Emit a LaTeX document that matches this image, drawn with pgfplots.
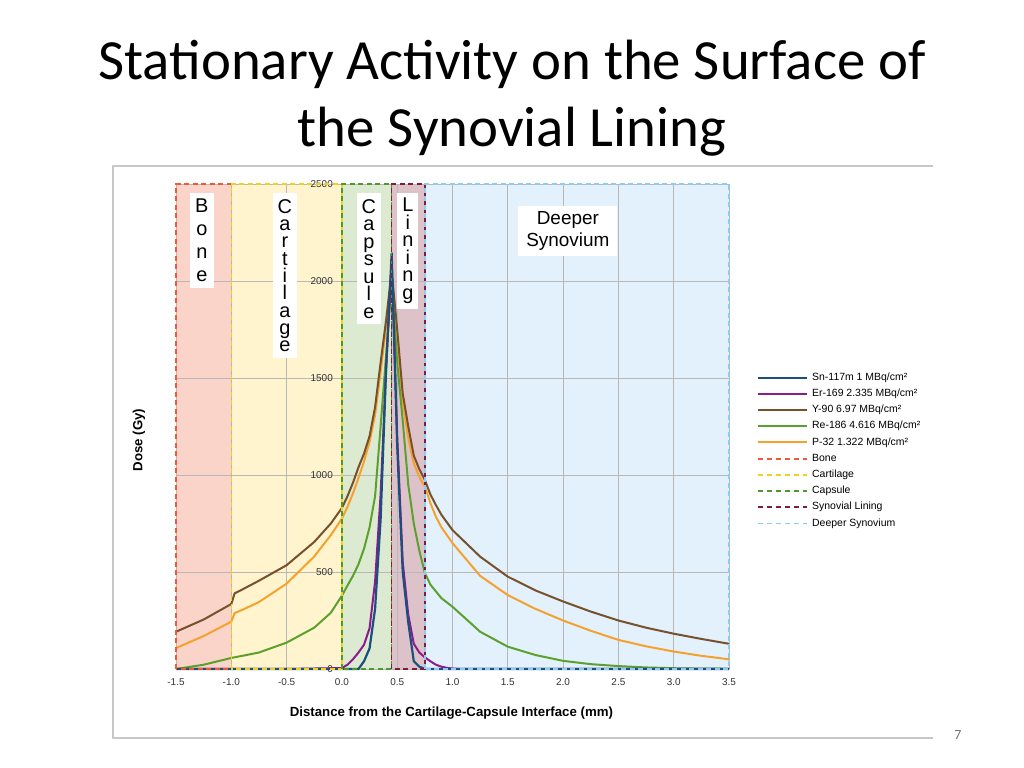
\documentclass[border=0pt]{standalone}
\usepackage{fontspec}
\setmainfont{Liberation Sans}
\newfontfamily\carlito{Carlito}
\usepackage{pgfplots}
\pgfplotsset{compat=1.18}
\definecolor{snc}{HTML}{1B4F7E}
\definecolor{erc}{HTML}{8E1B8A}
\definecolor{yc}{HTML}{77502C}
\definecolor{rec}{HTML}{5AA12E}
\definecolor{pc}{HTML}{F6A12E}
\definecolor{bonec}{HTML}{EE5A36}
\definecolor{cartc}{HTML}{F2D01E}
\definecolor{capsc}{HTML}{4C9A2A}
\definecolor{linc}{HTML}{7E1E3C}
\definecolor{deepc}{HTML}{8FCBF0}
\definecolor{bonef}{HTML}{FAD4C9}
\definecolor{cartf}{HTML}{FFF4CE}
\definecolor{capsf}{HTML}{DCEAD2}
\definecolor{linf}{HTML}{DEC2CA}
\definecolor{deepf}{HTML}{E2F1FC}
\begin{document}
\begin{tikzpicture}
\path (0bp,0bp) rectangle (1024bp,768bp);
\node[font=\carlito\fontsize{57}{60}\selectfont, anchor=base] at (512bp,688bp) {Stationary Activity on the Surface of};
\node[font=\carlito\fontsize{57}{60}\selectfont, anchor=base] at (512bp,621bp) {the Synovial Lining};
\draw[black!22, line width=1.2bp] (933bp,602bp) -- (113bp,602bp) -- (113bp,30bp) -- (933bp,30bp);
\node[font=\carlito\fontsize{14}{14}\selectfont, text=black!55, anchor=base] at (958bp,29bp) {7};
\begin{axis}[
  at={(176bp,99bp)}, anchor=south west,
  width=553bp, height=485bp, scale only axis,
  set layers, clip=false,
  xmin=-1.5, xmax=3.5, ymin=0, ymax=2500,
  xtick={-1.5,-1,...,3.5}, ytick={0,500,...,2500},
  grid=major, grid style={line width=0.7bp, color=black!28},
  major tick length=0pt,
  axis line style={draw=none},
  scaled ticks=false,
  tick label style={font=\fontsize{10}{12}\selectfont, text=black!80},
  xticklabel style={inner sep=0pt, yshift=-9bp, /pgf/number format/.cd, fixed, fixed zerofill, precision=1, assume math mode=true},
  yticklabel style={anchor=east, inner sep=0pt, xshift=157bp, /pgf/number format/.cd, fixed, precision=0, 1000 sep={}, assume math mode=true},
  xlabel={Distance from the Cartilage-Capsule Interface (mm)},
  xlabel style={font=\bfseries\fontsize{13.3}{15}\selectfont, at={(axis description cs:0.498,-0.0907)}, anchor=center},
  legend style={at={(axis description cs:1.0506,0.612)}, anchor=north west, draw=none, fill=none,
    font=\fontsize{10.5}{12}\selectfont, inner sep=0pt,
    nodes={inner sep=0pt, text height=8bp, text depth=2.5bp},
    row sep=5.7bp, /tikz/every odd column/.append style={column sep=4bp}},
  legend cell align=left,
  legend image code/.code={\draw[#1] (0bp,0bp) -- (49bp,0bp);},
]
% region fills
\addplot[draw=none, fill=bonef, on layer=axis background, forget plot] coordinates {(-1.5,0) (-1.5,2500) (-1,2500) (-1,0)} -- cycle;
\addplot[draw=none, fill=cartf, on layer=axis background, forget plot] coordinates {(-1,0) (-1,2500) (0,2500) (0,0)} -- cycle;
\addplot[draw=none, fill=capsf, on layer=axis background, forget plot] coordinates {(0,0) (0,2500) (0.45,2500) (0.45,0)} -- cycle;
\addplot[draw=none, fill=linf, on layer=axis background, forget plot] coordinates {(0.45,0) (0.45,2500) (0.75,2500) (0.75,0)} -- cycle;
\addplot[draw=none, fill=deepf, on layer=axis background, forget plot] coordinates {(0.75,0) (0.75,2500) (3.5,2500) (3.5,0)} -- cycle;
% curves
\addplot[pc, line width=2bp, forget plot] coordinates {
(-1.5,108) (-1.25,170) (-1.0,244) (-0.97,288) (-0.9,305) (-0.75,345) (-0.5,440) (-0.25,580) (-0.1,690) (0.0,775)
(0.05,835) (0.10,905) (0.15,985) (0.20,1070) (0.25,1170) (0.30,1310) (0.35,1530) (0.40,1770) (0.45,2020)
(0.50,1700) (0.55,1380) (0.60,1190) (0.65,1060) (0.70,990) (0.75,940) (0.80,855) (0.85,785) (0.90,730)
(1.0,649) (1.25,480) (1.5,381) (1.75,310) (2.0,250) (2.25,197) (2.5,150) (2.75,117) (3.0,90) (3.25,68) (3.5,50)};
\addplot[yc, line width=2bp, forget plot] coordinates {
(-1.5,192) (-1.25,255) (-1.0,335) (-0.97,390) (-0.9,410) (-0.75,455) (-0.5,535) (-0.25,655) (-0.1,750) (0.0,830)
(0.05,890) (0.10,960) (0.15,1040) (0.20,1110) (0.25,1200) (0.30,1350) (0.35,1580) (0.40,1800) (0.45,2050)
(0.50,1750) (0.55,1420) (0.60,1250) (0.65,1100) (0.70,1030) (0.75,975) (0.80,900) (0.85,845) (0.90,795)
(1.0,716) (1.25,579) (1.5,476) (1.75,405) (2.0,348) (2.25,296) (2.5,250) (2.75,213) (3.0,182) (3.25,155) (3.5,130)};
\addplot[rec, line width=2bp, forget plot] coordinates {
(-1.5,0) (-1.25,22) (-1.0,57) (-0.9,68) (-0.75,85) (-0.5,136) (-0.25,213) (-0.1,290) (0.0,378)
(0.05,430) (0.10,480) (0.15,540) (0.20,620) (0.25,730) (0.30,890) (0.35,1250) (0.40,1620) (0.45,2000)
(0.50,1580) (0.55,1280) (0.60,950) (0.65,750) (0.70,610) (0.75,495) (0.80,435) (0.85,400) (0.90,365)
(1.0,321) (1.25,192) (1.5,115) (1.75,72) (2.0,42) (2.25,25) (2.5,15) (2.75,8) (3.0,4) (3.25,2) (3.5,1)};
\addplot[erc, line width=2bp, forget plot] coordinates {
(-1.5,0) (-0.5,0) (0.0,5) (0.05,22) (0.10,50) (0.15,85) (0.20,125) (0.25,210) (0.30,450) (0.35,900) (0.40,1550) (0.45,2100)
(0.50,1200) (0.55,550) (0.60,280) (0.65,130) (0.70,85) (0.75,60) (0.80,40) (0.85,22) (0.90,12) (0.95,6) (1.0,2) (1.1,0) (3.5,0)};
\addplot[snc, line width=2.2bp, forget plot] coordinates {
(-1.5,0) (0.15,0) (0.20,40) (0.25,106) (0.30,310) (0.35,770) (0.40,1550) (0.45,2146)
(0.50,1150) (0.55,500) (0.60,240) (0.65,40) (0.70,12) (0.75,0) (3.5,0)};
% region borders
\addplot[bonec, line width=1.6bp, dash pattern=on 5bp off 3.5bp, forget plot] coordinates {(-1.5,0) (-1.5,2500) (-1,2500) (-1,0) (-1.5,0)};
\addplot[cartc, line width=1.6bp, dash pattern=on 5bp off 3.5bp, forget plot] coordinates {(-1,0) (-1,2500) (0,2500) (0,0) (-1,0)};
\addplot[capsc, line width=1.6bp, dash pattern=on 5bp off 3.5bp, forget plot] coordinates {(0,0) (0,2500) (0.45,2500) (0.45,0) (0,0)};
\addplot[linc, line width=1.6bp, dash pattern=on 5bp off 3.5bp, forget plot] coordinates {(0.45,0) (0.45,2500) (0.75,2500) (0.75,0) (0.45,0)};
\addplot[deepc, line width=1.6bp, dash pattern=on 5bp off 3.5bp, forget plot] coordinates {(0.75,0) (0.75,2500) (3.5,2500) (3.5,0) (0.75,0)};
% region labels
\node[fill=white, inner xsep=5bp, inner ysep=6bp, anchor=north, align=center, font=\fontsize{20}{23}\selectfont] at (axis cs:-1.266,2454) {B\\o\\n\\e};
\node[fill=white, inner xsep=5bp, inner ysep=6bp, anchor=north, align=center, font=\fontsize{20}{17.4}\selectfont] at (axis cs:-0.515,2454) {C\\a\\r\\t\\i\\l\\a\\g\\e};
\node[fill=white, inner xsep=5bp, inner ysep=6bp, anchor=north, align=center, font=\fontsize{20}{17.6}\selectfont] at (axis cs:0.244,2454) {C\\a\\p\\s\\u\\l\\e};
\node[fill=white, inner xsep=5bp, inner ysep=5bp, anchor=north, align=center, font=\fontsize{20}{17.6}\selectfont] at (axis cs:0.597,2454) {L\\i\\n\\i\\n\\g};
\node[fill=white, inner xsep=8bp, inner ysep=6bp, align=center, font=\fontsize{19}{22}\selectfont] at (axis cs:2.043,2258) {Deeper\\Synovium};
% y label
\node[rotate=90, font=\bfseries\fontsize{13.3}{15}\selectfont] at (axis description cs:-0.067,0.472) {Dose (Gy)};
% legend
\addlegendimage{snc, line width=2bp}\addlegendentry{Sn-117m 1 MBq/cm²}
\addlegendimage{erc, line width=2bp}\addlegendentry{Er-169 2.335 MBq/cm²}
\addlegendimage{yc, line width=2bp}\addlegendentry{Y-90 6.97 MBq/cm²}
\addlegendimage{rec, line width=2bp}\addlegendentry{Re-186 4.616 MBq/cm²}
\addlegendimage{pc, line width=2bp}\addlegendentry{P-32 1.322 MBq/cm²}
\addlegendimage{bonec, line width=1.8bp, dash pattern=on 5bp off 4bp}\addlegendentry{Bone}
\addlegendimage{cartc, line width=1.8bp, dash pattern=on 5bp off 4bp}\addlegendentry{Cartilage}
\addlegendimage{capsc, line width=1.8bp, dash pattern=on 5bp off 4bp}\addlegendentry{Capsule}
\addlegendimage{linc, line width=1.8bp, dash pattern=on 5bp off 4bp}\addlegendentry{Synovial Lining}
\addlegendimage{deepc, line width=1.8bp, dash pattern=on 5bp off 4bp}\addlegendentry{Deeper Synovium}
\end{axis}
\end{tikzpicture}
\end{document}
